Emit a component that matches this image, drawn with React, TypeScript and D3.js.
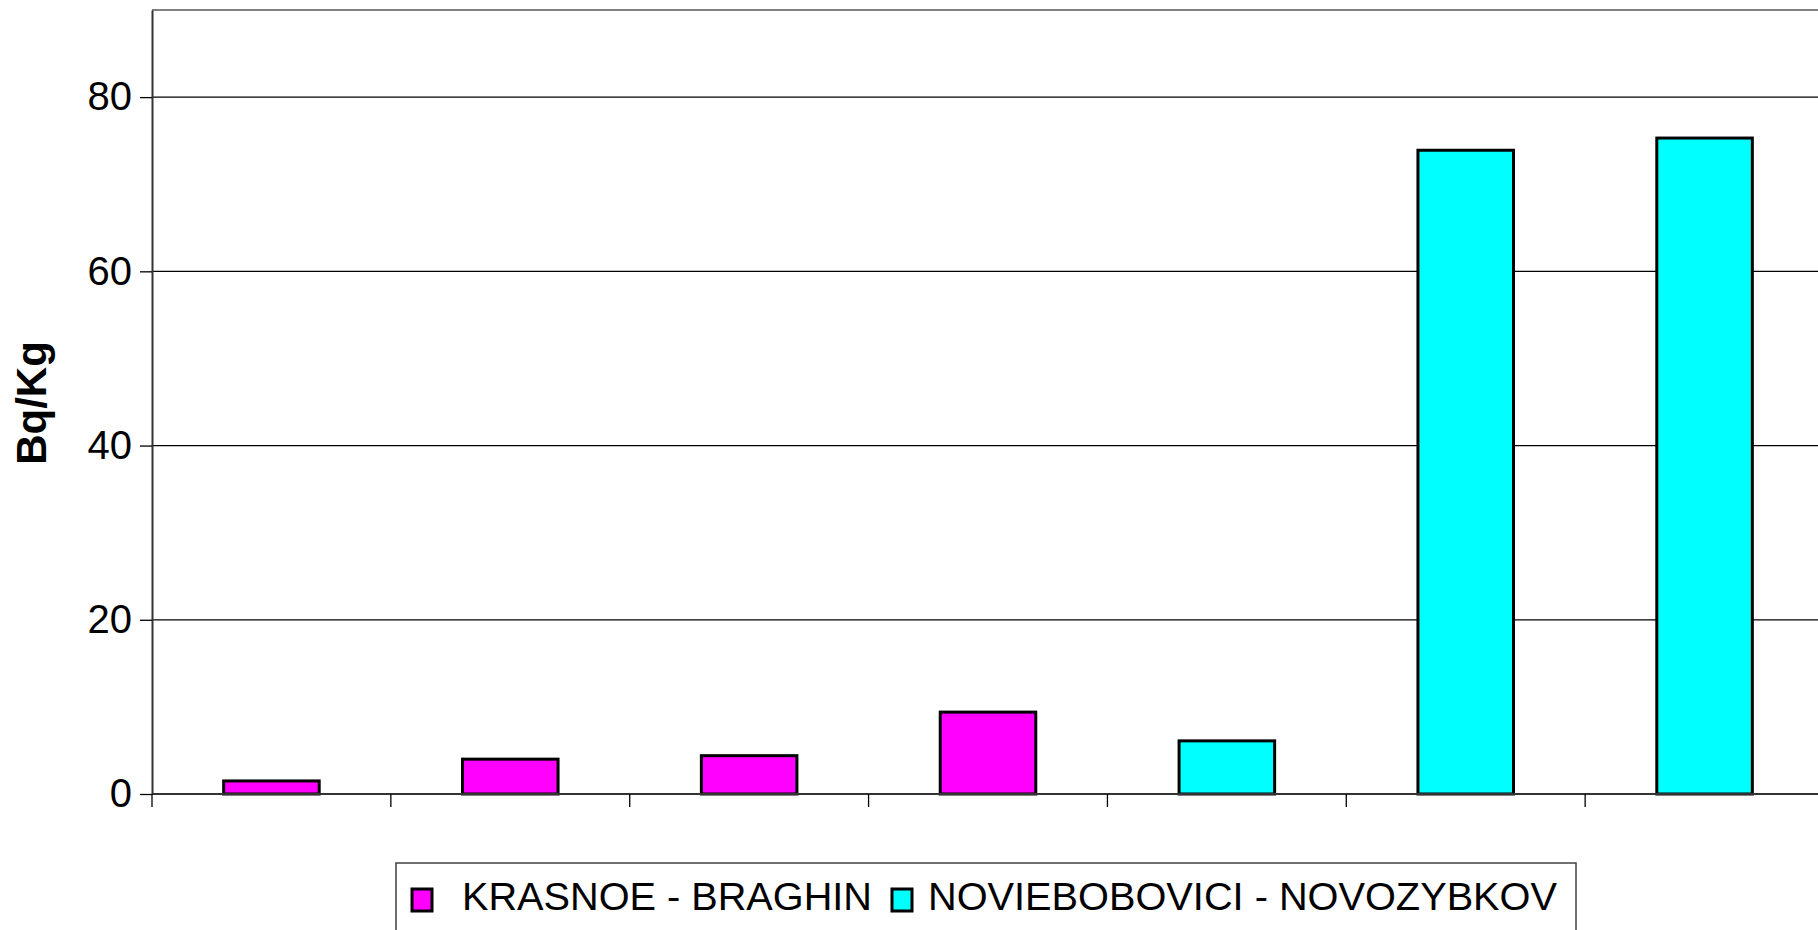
import React, { useEffect, useRef } from 'react';
import * as d3 from 'd3';

// one value per sampling site, in chart order
const categories = ['1', '2', '3', '4', '5', '6', '7'];
const values = [1.5, 4.0, 4.4, 9.4, 6.1, 73.9, 75.3];
const seriesOf = [0, 0, 0, 0, 1, 1, 1];
const seriesNames = ['KRASNOE - BRAGHIN', 'NOVIEBOBOVICI - NOVOZYBKOV'];
const seriesColors = ['#ff00ff', '#00ffff'];
const yTicks = [0, 20, 40, 60, 80];

const W = 1818;
const H = 930;
const FONT = '"Liberation Sans", Arial, sans-serif';

const App = () => {
  const ref = useRef<SVGSVGElement>(null);

  useEffect(() => {
    if (!ref.current) return;
    const svg = d3.select(ref.current);
    svg.selectAll('*').remove();

    const left = 152;
    const right = 1824;
    const top = 10;
    const bottom = 794;

    const x = d3.scaleBand<string>()
      .domain(categories)
      .range([left, right])
      .paddingInner(0.6)
      .paddingOuter(0.3);
    const y = d3.scaleLinear().domain([0, 90]).range([bottom, top]);

    // gridlines
    svg.append('g')
      .selectAll('line')
      .data(yTicks.filter(d => d > 0))
      .join('line')
      .attr('x1', left)
      .attr('x2', W)
      .attr('y1', d => y(d))
      .attr('y2', d => y(d))
      .attr('stroke', '#000')
      .attr('stroke-width', 1.3);

    // plot area top border
    svg.append('line')
      .attr('x1', left).attr('x2', W)
      .attr('y1', y(90)).attr('y2', y(90))
      .attr('stroke', '#808080')
      .attr('stroke-width', 2);

    // bars
    svg.append('g')
      .selectAll('rect')
      .data(values)
      .join('rect')
      .attr('x', (d, i) => x(categories[i])!)
      .attr('width', x.bandwidth())
      .attr('y', d => y(d))
      .attr('height', d => y(0) - y(d))
      .attr('fill', (d, i) => seriesColors[seriesOf[i]])
      .attr('stroke', '#000')
      .attr('stroke-width', 3);

    // y axis
    const yAxis = d3.axisLeft(y)
      .tickValues(yTicks)
      .tickSizeInner(12)
      .tickSizeOuter(0)
      .tickPadding(8)
      .tickFormat(d3.format('d'));
    const gy = svg.append('g')
      .attr('transform', `translate(${left},0)`)
      .call(yAxis);
    gy.select('.domain').attr('stroke', '#333').attr('stroke-width', 2);
    gy.selectAll('.tick line').attr('stroke', '#000').attr('stroke-width', 1.3);
    gy.selectAll('.tick text')
      .attr('font-family', FONT)
      .attr('font-size', 40)
      .attr('fill', '#000');

    // x axis: ticks on category boundaries, no labels
    const bounds = categories.map(c => x(c)! - (x.step() * x.paddingInner()) / 2);
    svg.append('line')
      .attr('x1', left).attr('x2', W)
      .attr('y1', bottom).attr('y2', bottom)
      .attr('stroke', '#333')
      .attr('stroke-width', 2);
    svg.append('g')
      .selectAll('line')
      .data(bounds)
      .join('line')
      .attr('x1', d => d)
      .attr('x2', d => d)
      .attr('y1', bottom)
      .attr('y2', bottom + 13)
      .attr('stroke', '#000')
      .attr('stroke-width', 1.3);

    // y title
    svg.append('text')
      .attr('transform', `translate(46,403) rotate(-90)`)
      .attr('text-anchor', 'middle')
      .attr('font-family', FONT)
      .attr('font-weight', 'bold')
      .attr('font-size', 42)
      .text('Bq/Kg');

    // legend
    const lg = svg.append('g');
    lg.append('rect')
      .attr('x', 396).attr('y', 863)
      .attr('width', 1180).attr('height', 120)
      .attr('fill', '#fff')
      .attr('stroke', '#404040')
      .attr('stroke-width', 1.5);
    const items = [
      { mx: 412, tx: 462, len: 410 },
      { mx: 892, tx: 928, len: 629 },
    ];
    items.forEach((it, i) => {
      lg.append('rect')
        .attr('x', it.mx).attr('y', 889)
        .attr('width', 20).attr('height', 22)
        .attr('fill', seriesColors[i])
        .attr('stroke', '#000')
        .attr('stroke-width', 3);
      lg.append('text')
        .attr('x', it.tx).attr('y', 910)
        .attr('font-family', FONT)
        .attr('font-size', 39)
        .attr('textLength', it.len)
        .attr('lengthAdjust', 'spacingAndGlyphs')
        .text(seriesNames[i]);
    });
  }, []);

  return (
    <svg
      ref={ref}
      width={W}
      height={H}
      style={{ position: 'absolute', left: 0, top: 0, background: '#fff' }}
    />
  );
};

export default App;
